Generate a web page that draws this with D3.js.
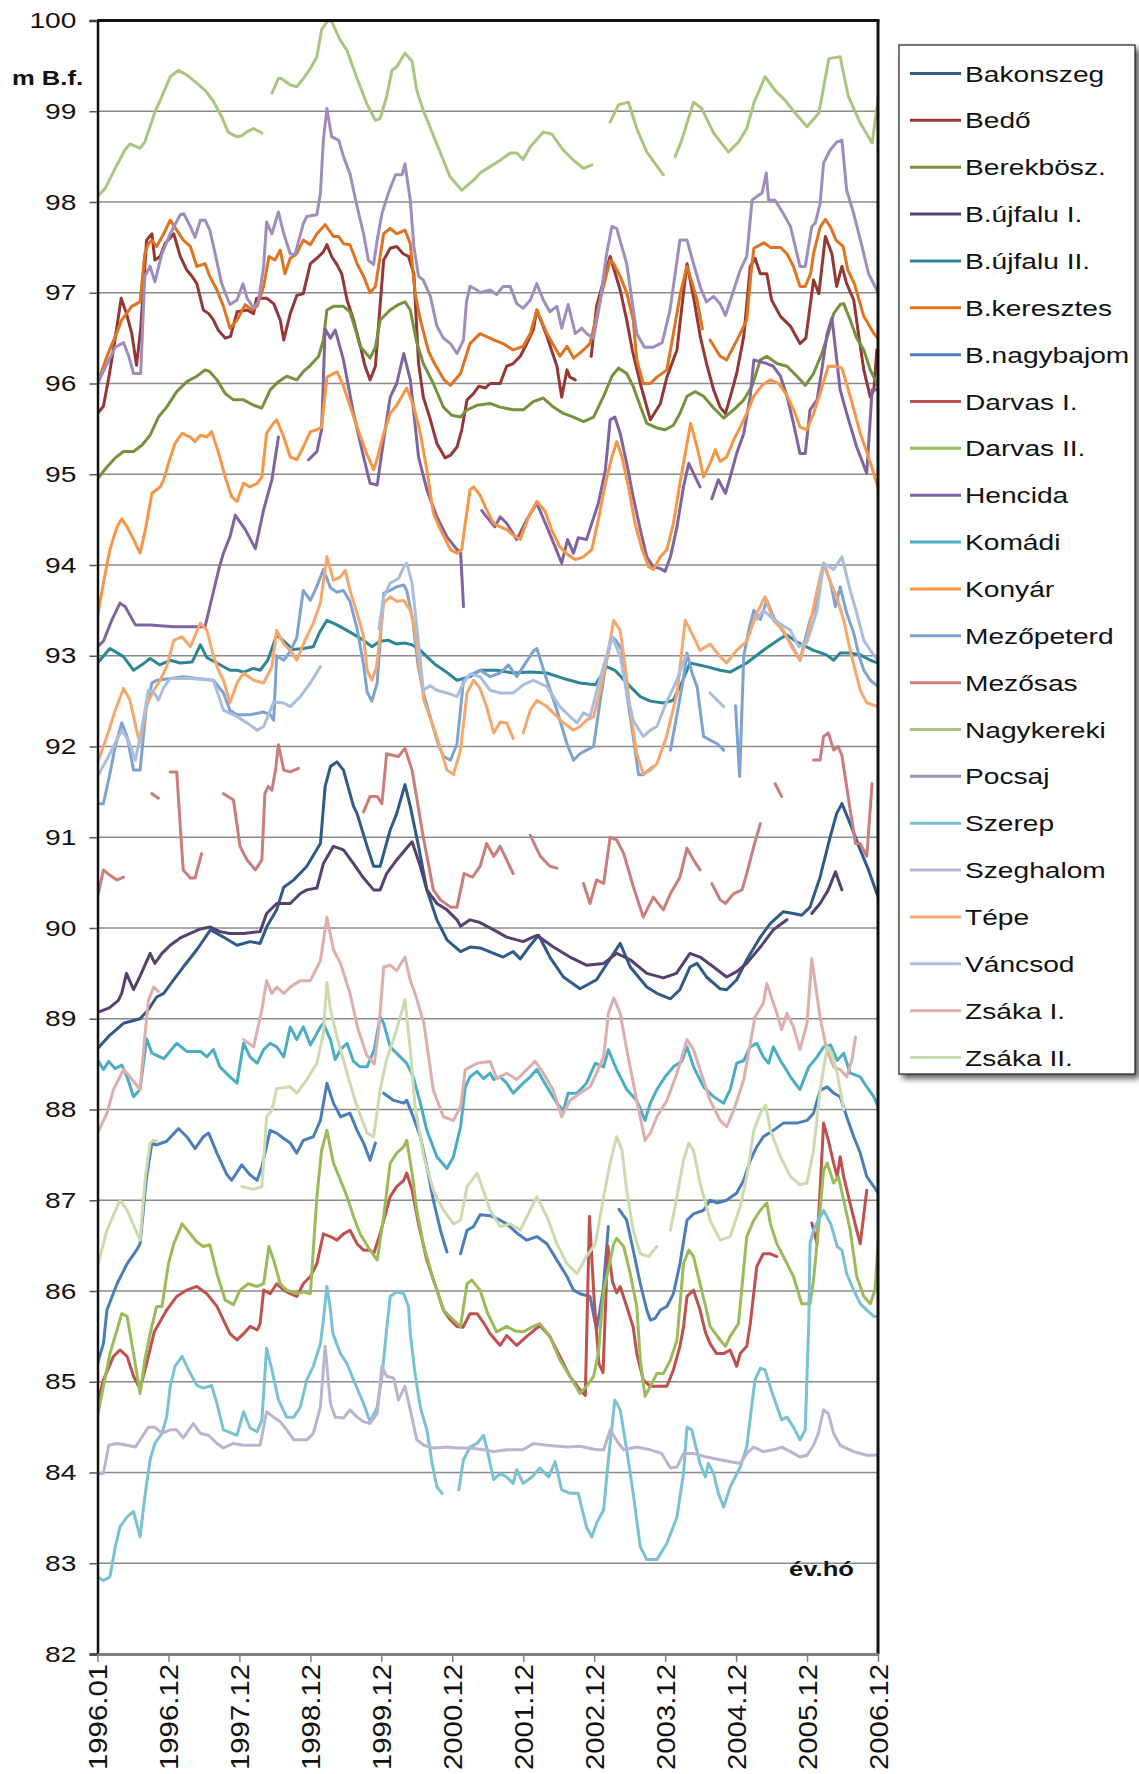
<!DOCTYPE html>
<html>
<head>
<meta charset="utf-8">
<script src="https://cdn.jsdelivr.net/npm/d3@7"></script>
<style>
  html, body { margin: 0; padding: 0; background: #fff; }
  svg { display: block; font-family: "Liberation Sans", Arial, sans-serif; }
</style>
</head>
<body>
<svg id="chart" width="1139" height="1774"></svg>
<script>
// Monthly groundwater levels (m B.f.), x = months since 1996.01; null = gap in record
const bakonszeg = [[0,88.67],[2.1,88.82],[4.4,88.95],[7.2,89.0],[8.6,89.1],[10,89.24],[11.2,89.28],[12.9,89.43],[14.5,89.57],[16.8,89.76],[19.1,89.98],[21.3,89.9],[23.6,89.81],[25.8,89.85],[27.5,89.83],[28.6,90.01],[30.3,90.2],[31.5,90.45],[33.2,90.53],[35.4,90.68],[37.7,90.93],[38.5,91.56],[39.4,91.78],[40.5,91.83],[41.6,91.74],[43.3,91.34],[43.9,91.26],[45.6,90.9],[46.7,90.68],[47.8,90.68],[49.5,91.08],[50.6,91.26],[52,91.58],[52.9,91.34],[54.3,90.9],[55.7,90.42],[57.4,90.09],[59.1,89.87],[61.4,89.74],[63,89.79],[64.7,89.78],[67,89.72],[68.6,89.68],[70.3,89.74],[71.5,89.66],[73.2,89.81],[74.6,89.92],[76.5,89.68],[78.8,89.46],[81.6,89.33],[84.4,89.43],[87.3,89.72],[88.4,89.83],[90.1,89.57],[92.9,89.35],[94.6,89.28],[96.9,89.22],[98.5,89.32],[100.2,89.57],[101.4,89.61],[103,89.46],[105.3,89.33],[106.4,89.32],[108.1,89.43],[109.8,89.65],[112.1,89.9],[113.8,90.05],[116,90.18],[117.7,90.16],[119.1,90.14],[120.5,90.23],[122.2,90.56],[123.9,91.0],[125,91.26],[125.9,91.37],[127.3,91.15],[129,90.86],[130.4,90.64],[131.8,90.38],[132,90.35]];
const bedo = [[0,95.67],[1,95.75],[2,96.1],[3,96.5],[4,96.94],[4.9,96.77],[5.8,96.55],[6.6,96.2],[7.3,96.6],[8.3,97.58],[9.2,97.65],[9.7,97.36],[10.6,97.4],[11.4,97.54],[12.9,97.65],[14,97.4],[15.1,97.25],[16,97.18],[16.8,97.1],[17.9,96.81],[18.8,96.77],[19.6,96.7],[20.4,96.59],[21.6,96.5],[22.5,96.52],[23.6,96.79],[25.3,96.81],[26.4,96.77],[26.9,96.94],[28.6,96.94],[29.8,96.88],[30.9,96.7],[31.5,96.48],[32.6,96.77],[33.7,96.97],[34.8,96.99],[36,97.32],[37.1,97.38],[38.2,97.45],[38.8,97.53],[39.6,97.4],[40.5,97.31],[41.3,97.21],[42.2,96.92],[43.3,96.7],[44.5,96.4],[45.2,96.2],[46.1,96.04],[47,96.19],[47.6,96.7],[48.4,97.36],[49.5,97.49],[50.6,97.51],[51.7,97.43],[52.6,97.4],[53.5,97.21],[54.3,96.22],[55.1,95.85],[56.3,95.6],[57.4,95.34],[58.8,95.18],[59.7,95.21],[60.8,95.3],[61.6,95.49],[62.5,95.82],[63.6,95.89],[64.5,95.97],[65.6,95.95],[66.4,96.0],[68.1,96.0],[69.2,96.19],[70.3,96.22],[71.5,96.3],[72.6,96.44],[73.7,96.59],[74.3,96.81],[76,96.52],[77.7,96.19],[78.5,95.85],[79.4,96.15],[79.9,96.07],[80.8,96.04],null,[83.5,96.3],[84.4,96.85],[86.7,97.4],[88.4,97.03],[89.5,96.7],[90.5,96.35],[91.8,96.0],[93.5,95.6],[95.2,95.78],[96.3,96.07],[98,96.37],[99.1,97.0],[99.7,97.32],[100.8,96.95],[102,96.5],[103,96.22],[104.2,95.93],[105.3,95.74],[106.2,95.67],[107,95.85],[108.1,96.11],[109.3,96.52],[110.4,97.29],[111.2,97.38],[112.1,97.21],[113.2,97.21],[114,96.92],[115.5,96.74],[117.2,96.63],[118.8,96.44],[119.8,96.5],[121.1,97.14],[122,96.99],[123.1,97.62],[124.2,97.43],[125,97.07],[125.9,97.29],[126.7,97.1],[127.9,96.92],[128.8,96.5],[129.6,96.15],[130.7,95.85],[131.3,95.93],[131.8,96.37]];
const berekbosz = [[0,94.95],[1.6,95.08],[3,95.18],[4.4,95.25],[6.1,95.25],[7.5,95.32],[8.9,95.43],[10.3,95.63],[11.7,95.74],[13.4,95.91],[15.1,96.02],[16.8,96.08],[18.2,96.15],[19,96.13],[20.2,96.04],[21.6,95.89],[23,95.82],[24.7,95.82],[26.4,95.76],[27.8,95.73],[29.2,95.93],[30.6,96.02],[32,96.08],[33.7,96.04],[34.8,96.13],[36,96.2],[37.4,96.3],[38.2,96.48],[38.8,96.81],[39.9,96.85],[41.6,96.85],[42.7,96.79],[43.6,96.6],[44.4,96.41],[46.1,96.28],[47,96.4],[47.8,96.7],[49.5,96.81],[50.9,96.87],[52,96.9],[52.9,96.81],[54,96.45],[55.1,96.22],[56.8,96.0],[58.5,95.74],[59.9,95.65],[61.4,95.63],[62.5,95.71],[64.2,95.76],[66.4,95.78],[68.1,95.74],[70.3,95.71],[72,95.71],[73.7,95.8],[75.4,95.84],[77.1,95.74],[78.8,95.67],[80.5,95.63],[82.2,95.58],[83.9,95.63],[85.6,95.86],[87,96.08],[88.1,96.17],[89.5,96.11],[90.6,95.97],[91.8,95.75],[92.9,95.56],[94.6,95.51],[96,95.49],[97.4,95.54],[98.5,95.67],[99.7,95.86],[101.1,95.91],[102.5,95.86],[104.2,95.73],[105.9,95.62],[107.6,95.71],[109.3,95.82],[110.7,95.97],[112.1,96.26],[113.2,96.3],[114.9,96.22],[116.6,96.19],[118.3,96.08],[119.7,95.98],[121.1,96.11],[122.5,96.33],[123.6,96.55],[124.5,96.77],[125.6,96.87],[126.2,96.88],[127.3,96.7],[128.4,96.5],[129.6,96.37],[130.7,96.15],[132,95.97]];
const bujfalu1 = [[0,89.07],[2,89.12],[3.5,89.2],[4.1,89.28],[4.9,89.5],[6.1,89.32],[7.2,89.47],[8.9,89.72],[9.7,89.61],[10.9,89.72],[12.3,89.81],[14,89.89],[15.7,89.94],[17.4,89.99],[19.1,90.01],[20.7,89.96],[22.4,89.94],[24.7,89.94],[27.5,89.96],[28.6,90.16],[30.3,90.27],[32.6,90.27],[34.3,90.38],[35.4,90.42],[37.1,90.44],[38.2,90.71],[39.9,90.9],[41.6,90.86],[43.3,90.71],[45,90.55],[46.7,90.42],[47.8,90.42],[48.9,90.6],[50.6,90.75],[52,90.86],[53.2,90.95],[54.6,90.68],[55.7,90.42],[57.4,90.27],[59.1,90.2],[60.8,90.09],[61.4,90.02],[63,90.09],[64.7,90.06],[67,89.98],[69.2,89.9],[72,89.85],[74.3,89.92],[77.1,89.79],[79.9,89.68],[82.7,89.59],[85.6,89.61],[87.8,89.72],[90.1,89.65],[92.9,89.5],[95.7,89.45],[97.9,89.5],[100.2,89.72],[101.9,89.68],[104.2,89.57],[106.4,89.46],[108.1,89.52],[109.8,89.61],[112.1,89.79],[114.3,89.98],[116.6,90.09],null,[120.8,90.16],[122.2,90.27],[123.6,90.42],[124.8,90.62],[125.9,90.42]];
const bujfalu2 = [[0,92.92],[2.1,93.08],[4.4,92.99],[6.1,92.84],[7.5,92.9],[8.9,92.97],[10.5,92.9],[12.3,92.95],[14,92.92],[16,92.93],[17.4,93.12],[18.5,92.98],[20.2,92.92],[22.4,92.84],[23.6,92.84],[24.7,92.82],[26.4,92.86],[27.5,92.84],[28.8,92.95],[30.3,93.23],[31.5,93.16],[33,93.07],[34.8,93.08],[36.5,93.1],[37.5,93.25],[38.8,93.39],[40.5,93.34],[42.7,93.26],[45,93.17],[46.4,93.1],[47.8,93.16],[49.2,93.17],[50.5,93.13],[52,93.14],[53.2,93.12],[54.6,93.06],[55.7,92.99],[57.2,92.9],[58.8,92.83],[60.8,92.73],[63,92.77],[64.7,92.84],[67.5,92.84],[70.3,92.81],[73.2,92.82],[76,92.81],[78.8,92.75],[81.6,92.7],[84.2,92.68],[86.1,92.88],[87.5,92.84],[90.1,92.66],[91.8,92.55],[93.5,92.5],[95.7,92.48],[97.4,92.51],[98.8,92.7],[100.2,92.92],[103,92.88],[105.3,92.84],[107,92.82],[109.8,92.92],[112.6,93.06],[115.5,93.19],[116.6,93.23],[118.3,93.15],[121.1,93.06],[123.3,93.01],[124.5,92.95],[125.6,93.03],[127.3,93.03],[129,93.01],[130.7,92.95],[132,92.92]];
const bkeresztes = [[0,96.0],[1.6,96.3],[3.2,96.55],[4.1,96.7],[4.9,96.77],[5.8,96.85],[7.2,96.9],[8,97.43],[8.6,97.54],[9.2,97.58],[10,97.51],[11.2,97.65],[12.3,97.8],[13.4,97.69],[14.5,97.58],[15.7,97.51],[16.8,97.29],[18.2,97.32],[19,97.18],[20.2,97.03],[21.3,96.85],[22.4,96.61],[23.6,96.7],[25,96.87],[26.1,96.81],[27,96.85],[28.1,97.07],[29,97.4],[30,97.36],[30.9,97.47],[31.7,97.21],[32.6,97.38],[33.7,97.43],[34.8,97.58],[36,97.53],[37.1,97.65],[38.5,97.75],[39.9,97.62],[40.8,97.62],[41.6,97.54],[42.7,97.53],[43.9,97.32],[45,97.18],[46.1,97.0],[47,97.07],[48.4,97.65],[49.5,97.71],[50.6,97.65],[52,97.69],[52.9,97.54],[53.7,97.0],[54.6,96.7],[56,96.35],[57,96.22],[58.6,96.04],[59.7,95.98],[61.4,96.11],[63,96.44],[64.7,96.55],[67,96.48],[68.6,96.44],[70.3,96.37],[72,96.41],[73.2,96.55],[74.3,96.81],[76,96.55],[78.2,96.3],[79.4,96.41],[80.5,96.28],[82.2,96.37],[83.3,96.44],[85,96.92],[86.7,97.36],[87.3,97.32],[88.4,97.18],[89.5,97.0],[90.6,96.7],[91.2,96.26],[92.3,96.0],[93.5,96.0],[94.6,96.07],[96.3,96.15],[97.4,96.55],[98.6,97.0],[99.7,97.29],[100.6,97.1],[101.4,96.92],[102.3,96.6],null,[103.6,96.48],[105.3,96.3],[106.4,96.26],[107.6,96.41],[108.7,96.55],[109.8,96.7],[110.5,97.2],[111,97.49],[112.7,97.55],[113.8,97.5],[115.5,97.5],[116.6,97.43],[117.7,97.29],[118.8,97.07],[119.7,97.07],[120.6,97.21],[121.1,97.43],[122.2,97.72],[123.1,97.81],[124,97.72],[124.9,97.58],[126.1,97.51],[126.9,97.25],[128,97.1],[129.6,96.74],[131.3,96.55],[132,96.5]];
const bnagybajom = [[0,85.2],[1,85.42],[1.6,85.79],[3.3,86.08],[5,86.3],[6.6,86.45],[7.2,86.52],[8.3,87.26],[9.2,87.63],[10,87.61],[11.7,87.65],[13.7,87.79],[15.1,87.7],[16.5,87.57],[17.9,87.7],[18.8,87.74],[20.2,87.52],[21.9,87.28],[22.7,87.22],[24.4,87.39],[25.8,87.28],[27,87.22],[27.8,87.37],[29.2,87.77],[30.3,87.74],[31.5,87.68],[32.6,87.63],[33.7,87.52],[34.8,87.66],[36.5,87.7],[37.7,87.88],[38.8,88.29],[39.9,88.07],[41.1,87.92],[42.7,87.96],[43.9,87.77],[45,87.63],[46.1,87.44],[47,87.63],null,[48.4,88.18],[50.1,88.1],[51.8,88.07],[52.3,88.1],[53.4,87.92],[54.6,87.7],[55.7,87.37],[56.8,87.0],[58,86.67],[59.1,86.43],null,[61.4,86.41],[62.5,86.67],[63.6,86.71],[64.7,86.84],[66.4,86.83],[68.1,86.78],[69.2,86.74],[70.9,86.64],[72.6,86.56],[74.3,86.6],[76,86.52],[77.7,86.34],[79.4,86.16],[80.5,86.01],[81.6,85.97],[83.3,85.94],[84.4,85.57],[85.5,86.0],[86.4,86.71],null,[88.2,86.9],[89.5,86.78],[90.6,86.45],[91.8,86.08],[92.9,85.79],[93.5,85.68],[94.3,85.7],[95.2,85.79],[96.3,85.83],[97.4,85.97],[98.5,86.3],[99.7,86.78],[100.8,86.85],[102.5,86.89],[103.6,87.0],[104.8,86.97],[106.4,87.0],[108.1,87.08],[109.3,87.22],[110.4,87.44],[111.5,87.59],[112.6,87.7],[114.3,87.77],[116,87.85],[118.3,87.85],[120,87.88],[121.1,87.96],[122.2,88.21],[123.4,88.25],[124.5,88.18],[125.6,88.14],[126.7,87.92],[127.9,87.7],[129,87.52],[130.1,87.26],[131.3,87.15],[132,87.08]];
const darvas1 = [[0,84.76],[1,85.02],[2.7,85.28],[3.8,85.35],[5,85.28],[6.1,85.06],[7.2,84.92],[8.3,85.2],[9.6,85.55],[11.7,85.79],[13.4,85.94],[15.1,86.01],[16.8,86.05],[18.5,85.97],[20.2,85.83],[21.3,85.68],[22.4,85.53],[23.6,85.46],[24.7,85.53],[25.8,85.61],[27,85.57],[27.5,85.64],[28.1,86.01],[29.2,85.97],[30.3,86.08],[31.5,86.01],[32.6,85.97],[33.7,85.94],[34.8,86.08],[36,86.16],[37.1,86.3],[38.2,86.63],[39.4,86.6],[40.5,86.56],[41.6,86.63],[42.7,86.67],[43.9,86.52],[45,86.45],[46.1,86.45],[46.7,86.41],[47.8,86.63],[49.5,87.04],[50.6,87.15],[51.8,87.22],[52.3,87.3],[53.2,87.11],[54.3,86.74],[55.7,86.34],[57.4,86.01],[58.5,85.79],[59.7,85.68],[60.8,85.61],[61.8,85.6],[63,85.75],[64.2,85.75],[65.3,85.65],[66.4,85.53],[68.1,85.4],[69.2,85.51],[70.9,85.4],[72.6,85.5],[74.8,85.62],[76.5,85.5],[78.2,85.28],[79.9,85.06],[81.6,84.91],[82.5,84.85],[83.2,86.82],[84,85.9],[84.8,85.2],[85.5,85.1],[86.3,86.5],[87.1,86.1],[87.8,85.98],[88.4,86.05],[89.5,85.83],[90.6,85.6],[91.2,85.31],[92.3,85.02],[93.5,84.95],[95.2,84.95],[96.3,84.95],[97.4,85.13],[98.5,85.39],[99.1,85.6],[99.7,85.94],[100.8,86.01],[101.9,85.79],[102.8,85.55],[103.6,85.42],[104.7,85.31],[105.9,85.31],[107,85.35],[108.1,85.17],[108.7,85.31],[109.8,85.39],[110.4,85.64],[111.5,86.27],[112.6,86.41],[113.8,86.41],[114.9,86.38],null,[120.8,86.75],[121.7,86.52],[122.2,87.11],[122.8,87.85],[123.6,87.66],[124.5,87.41],[125.1,87.26],[125.6,87.48],[126.2,87.26],[127.3,86.96],[128.4,86.67],[129,86.52],[130.1,87.11]];
const darvas2 = [[0,84.62],[1,84.95],[2.1,85.31],[3.3,85.57],[4.1,85.75],[5,85.72],[6,85.35],[7.2,84.87],[8,85.24],[8.9,85.53],[10,85.83],[10.9,85.83],[12,86.3],[12.9,86.52],[14.3,86.74],[15.7,86.63],[16.8,86.54],[17.9,86.49],[19,86.51],[20.2,86.19],[21.6,85.9],[23,85.85],[24.1,86.01],[25.5,86.08],[27,86.05],[28.1,86.08],[29,86.49],[29.8,86.34],[30.9,86.08],[32,86.01],[33.7,85.97],[34.8,85.99],[36,85.97],[37.1,87.04],[37.9,87.55],[38.8,87.77],[39.9,87.41],[41.1,87.22],[42.2,87.04],[43.3,86.82],[44.4,86.63],[46.1,86.45],[47.3,86.34],[48.4,86.82],[49.5,87.41],[50.6,87.52],[51.8,87.59],[52.3,87.66],[53.2,87.3],[54,86.89],[55.1,86.52],[56.8,86.12],[58.5,85.79],[60.2,85.68],[61.4,85.61],[62.5,86.08],[63.3,86.12],[64.7,86.01],[66,85.75],[67.5,85.55],[69.2,85.61],[70.6,85.56],[72,85.55],[73.7,85.61],[74.8,85.64],[76.5,85.5],[78.2,85.24],[79.9,85.06],[81.6,84.87],[82.7,84.95],[83.9,85.06],[84.7,85.31],[85.6,86.0],[87.3,86.52],[87.8,86.58],[89,86.49],[90.1,86.19],[91.2,85.83],[91.8,85.24],[92.6,84.84],[93.5,84.95],[94.6,85.09],[95.7,85.09],[96.9,85.24],[98,85.46],[99.1,86.3],[100,86.45],[100.8,86.38],[101.9,86.08],[103,85.79],[103.6,85.61],[105.3,85.46],[106.2,85.39],[107,85.5],[108.4,85.64],[109.8,86.6],[111,86.78],[112.1,86.89],[113.2,86.97],[113.8,86.74],[114.9,86.52],[116,86.38],[117.7,86.16],[119.1,85.86],[120.5,85.86],[121.1,86.12],[121.9,86.67],[122.8,87.33],[123.4,87.41],[124.5,87.19],[125.3,87.26],[126.2,87.0],[127.3,86.67],[128.4,86.16],[129.6,85.94],[130.7,85.86],[131.5,86.01],[132,86.52]];
const hencida = [[0,93.1],[1,93.16],[2.4,93.39],[3.8,93.58],[4.7,93.54],[6.4,93.34],[8.9,93.34],[12.9,93.32],[18.2,93.32],[19.4,93.65],[20.5,93.95],[21.3,94.13],[22.4,94.31],[23.3,94.55],[25,94.39],[26.7,94.18],[28.1,94.61],[29.5,94.94],[30.6,95.41],null,[35.7,95.16],[37.1,95.25],[37.9,95.49],[38.5,96.6],[39.4,96.5],[40.2,96.59],[41.6,96.26],[43.3,95.67],[45,95.19],[46.1,94.9],[47.3,94.88],[48.4,95.38],[49.5,95.85],[50.6,96.0],[51.8,96.33],[52.9,96.04],[54.3,95.19],[55.7,94.83],[57.4,94.53],[59.1,94.31],[60.8,94.17],[61.4,94.15],[61.9,93.54],null,[65,94.6],[65.8,94.53],[67.2,94.42],[68.1,94.53],[69.2,94.46],[70.9,94.28],[72.6,94.5],[74.3,94.68],[76,94.42],[77.4,94.2],[78.5,94.02],[79.5,94.28],[80.5,94.13],[81.3,94.3],[82.7,94.28],[84.7,94.68],[85.9,95.05],[86.7,95.6],[87.5,95.63],[88.4,95.45],[89.5,95.12],[90.6,94.75],[91.8,94.39],[92.9,94.09],[94,93.98],[95.2,93.96],[96,93.93],[96.9,94.09],[98,94.42],[99.1,94.86],[100,95.12],[100.8,95.01],[101.9,94.86],null,[103.9,94.73],[105,94.94],[106.2,94.79],[107,94.97],[108.1,95.23],[109.3,95.45],[110.4,95.86],[111,96.26],[112.1,96.24],[113.2,96.22],[114.3,96.19],[115.5,96.08],[116.6,95.86],[117.7,95.56],[118.8,95.23],[119.7,95.23],[120.5,95.71],[121.7,95.82],[122.5,96.15],[123.4,96.55],[124.2,96.72],[124.6,96.5],[125.6,95.93],[126.7,95.67],[128.4,95.3],[130.1,95.01],[131,95.93],[132,95.93]];
const komadi = [[0,88.55],[1,88.44],[1.9,88.53],[3,88.45],[4.1,88.49],[5,88.36],[6.1,88.14],[7.2,88.22],[8.3,88.78],[9.2,88.62],[11.2,88.56],[13.4,88.73],[15.1,88.64],[17.4,88.64],[18.5,88.58],[19.6,88.66],[20.7,88.47],[22.4,88.36],[23.6,88.29],[24.7,88.73],[25.8,88.58],[27,88.51],[28.1,88.66],[29.2,88.73],[30.3,88.69],[31.5,88.58],[32.6,88.91],[33.7,88.77],[34.8,88.91],[36,88.71],[37.7,88.91],[38.2,88.95],[39.4,88.77],[40.2,88.55],[41.1,88.66],[42.2,88.73],[43.3,88.53],[44.4,88.47],[45.6,88.47],[46.8,88.66],[47.8,89.02],[48.4,88.95],[49.5,88.69],[51.2,88.58],[52.3,88.51],[53.4,88.36],[54.6,88.07],[55.7,87.77],[57.4,87.48],[59.1,87.35],[60.2,87.48],[61.4,87.81],[62.2,88.25],[63,88.36],[64.2,88.42],[65.3,88.34],[66.4,88.4],[67,88.33],[68.1,88.36],[69.2,88.29],[70.3,88.18],[72,88.29],[73.2,88.36],[74.3,88.44],[76,88.25],[77.7,88.07],[78.8,87.99],[79.6,88.18],[81.1,88.18],[82.7,88.29],[84.2,88.51],[85.6,88.47],[86.4,88.66],[87.8,88.44],[89.5,88.22],[91.2,88.1],[92.6,87.88],[93.5,88.07],[94.6,88.22],[96,88.36],[97.4,88.47],[98.8,88.53],[99.7,88.69],[100.8,88.47],[102.5,88.25],[104.2,88.14],[105.9,88.07],[107,88.22],[108.1,88.51],[109.3,88.54],[110.4,88.69],[111.5,88.73],[112.6,88.58],[113.5,88.51],[114.3,88.69],[115.5,88.54],[117.2,88.36],[118.8,88.22],[120.3,88.47],[121.7,88.58],[122.8,88.69],[124,88.71],[125.1,88.54],[126.2,88.62],[127.3,88.4],[129,88.36],[130.1,88.25],[131.3,88.14],[132,88.03]];
const konyar = [[0,93.43],[1,93.8],[2.1,94.17],[3.3,94.42],[4.1,94.51],[5,94.42],[6.1,94.28],[7.2,94.13],[8.1,94.39],[9.2,94.79],[10.6,94.86],[11.2,94.94],[12,95.12],[13.1,95.34],[14.3,95.45],[15.7,95.41],[16.5,95.36],[17.4,95.43],[18.5,95.41],[19.3,95.47],[20.5,95.23],[21.6,94.97],[22.7,94.75],[23.6,94.7],[24.7,94.9],[25.8,94.86],[27,94.9],[27.8,94.97],[28.6,95.45],[29.5,95.54],[30.3,95.6],[31.5,95.41],[32.6,95.19],[33.7,95.16],[34.8,95.3],[36,95.47],[37.1,95.49],[37.9,95.52],[38.8,96.07],[40.5,96.13],[41.6,95.97],[43.9,95.52],[45.5,95.23],[46.7,95.05],[47.3,95.17],[48.4,95.45],[49.5,95.67],[50.6,95.76],[52.3,95.95],[53.5,95.74],[54.6,95.45],[55.7,95.05],[56.8,94.57],[58,94.39],[59.7,94.17],[60.8,94.13],[61.6,94.17],[62.2,94.46],[63,94.83],[63.6,94.86],[64.7,94.77],[65.8,94.61],[67,94.46],[68.1,94.42],[69.2,94.39],[70.3,94.33],[71.5,94.28],[72.9,94.53],[74.3,94.7],[75.7,94.59],[76.8,94.39],[78.2,94.2],[79.6,94.11],[80.8,94.06],[82.2,94.09],[83.6,94.17],[84.7,94.5],[85.9,94.9],[87,95.19],[87.8,95.36],[88.7,95.19],[89.8,94.86],[90.9,94.46],[92.1,94.17],[93.2,93.98],[94,93.95],[95.2,94.09],[96.3,94.17],[97.4,94.46],[98.5,94.9],[99.4,95.23],[100.3,95.56],[101.4,95.3],[102.5,94.97],[103.6,95.12],[104.5,95.27],[105.3,95.14],[106.4,95.19],[107.6,95.38],[108.7,95.52],[109.8,95.67],[111,95.86],[112.4,95.98],[113.8,96.04],[115.2,96.0],[116.6,95.87],[118,95.67],[118.8,95.52],[120,95.49],[121.1,95.67],[122.2,95.89],[123.6,96.19],[124.8,96.19],[125.9,96.17],[127.3,95.86],[129,95.45],[130.4,95.19],[131.8,94.9],[132,94.85]];
const mezopeterd = [[0,91.37],[1,91.37],[2.1,91.7],[3,92.0],[4.1,92.26],[5,92.11],[6.1,91.74],[7.2,91.74],[8.2,92.4],[9.2,92.7],[10,92.73],[12.3,92.75],[14.6,92.77],[16.8,92.75],[19.6,92.73],[21.3,92.59],[22.4,92.4],[23.6,92.35],[25.8,92.35],[28.1,92.38],[29.2,92.35],[29.8,92.29],[30.3,93.0],[31.5,92.95],[32.6,93.05],[33.7,93.2],[34.8,93.72],[36,93.61],[37,93.75],[38.2,93.95],[39.4,93.75],[40.5,93.7],[41.6,93.72],[42.7,93.6],[43.9,93.3],[45,92.9],[45.6,92.6],[46.4,92.5],[47.3,92.7],[48.4,93.69],[49.5,93.72],[50.6,93.76],[51.8,93.78],[52.3,93.72],[53.3,93.4],[54.2,92.9],[55.1,92.59],[57.4,92.07],[58.5,91.89],[59.7,91.85],[60.8,92.03],[61.9,92.73],[63,92.79],[64.7,92.84],[66.4,92.77],[68.1,92.81],[69.5,92.9],[70.9,92.77],[72.2,92.9],[73.7,93.05],[74.3,93.08],[76,92.73],[77.7,92.4],[79.4,92.03],[80.5,91.85],[81.6,91.92],[82.7,91.96],[83.9,92.0],[85,92.5],[86.1,92.95],[87,93.21],[87.8,93.16],[88.7,93.06],[89.5,92.59],[90.6,92.11],[91.5,91.69],[92.3,91.69],[94,91.78],null,[96.9,91.96],[98,92.35],[99.1,92.75],[99.7,93.03],[100.6,92.8],[101.4,92.66],[102.5,92.11],[103.6,92.07],[104.8,92.03],[105.9,91.96],null,[107.9,92.45],[108.6,91.67],[109.3,93.0],[110.2,93.3],[111,93.5],[112.1,93.4],[113.2,93.61],[114.3,93.43],[115.6,93.3],[117.2,93.14],[118.8,92.95],[120.5,93.39],[121.7,93.58],[122.8,94.02],[124,93.8],[124.8,93.54],[125.6,93.76],[126.7,93.47],[127.9,93.25],[128.8,93.0],[129.6,92.84],[130.7,92.73],[132,92.66]];
const mezosas = [[0,90.34],[1,90.64],[2.1,90.58],[3.3,90.53],[4.4,90.56],null,[9.2,91.48],[10.3,91.43],null,[12.3,91.72],[13.4,91.72],[14,91.12],[14.5,90.64],[15.7,90.55],[16.5,90.55],[17.6,90.82],null,[21.3,91.48],[23,91.41],[24.1,90.9],[25.3,90.75],[26.7,90.64],[27.8,90.75],[28.3,91.48],[28.9,91.56],[29.5,91.52],[30.1,91.74],[30.6,92.02],[31.5,91.74],[32.6,91.72],[34,91.76],null,[45,91.28],[46.1,91.45],[47.3,91.45],[48.1,91.37],[48.9,91.92],[50.1,91.9],[50.9,91.89],[52,91.98],[53.2,91.74],[54.2,91.35],[55.1,91.0],[56.8,90.42],[58,90.31],[59.7,90.23],[60.8,90.23],[62,90.6],[63.4,90.56],[64.7,90.68],[65.8,90.93],[67,90.79],[68.1,90.9],[69.2,90.75],[70.3,90.6],null,[73.2,91.02],[74.9,90.79],[76.5,90.68],[77.7,90.66],null,[82.2,90.49],[83.3,90.27],[84.4,90.53],[85.6,90.49],[86.7,91.0],[87.8,90.97],[89,90.82],[90.6,90.46],[92.3,90.12],[94,90.34],[95.7,90.2],[96.9,90.38],[98.5,90.56],[99.7,90.88],[100.8,90.75],[101.9,90.64],null,[103.9,90.49],[105.3,90.31],[106.2,90.27],[107.6,90.38],[109,90.42],[109.8,90.6],[111,90.9],[112.1,91.15],null,[114.6,91.59],[115.7,91.45],null,[121.1,91.85],[122.2,91.85],[122.8,92.11],[123.6,92.15],[124.5,91.96],[125.3,92.0],[125.9,91.9],[127.3,91.3],[128.2,90.93],[129,90.93],[130.1,90.79],[131,91.59]];
const nagykereki = [[0,98.06],[1.3,98.15],[3,98.37],[4.6,98.57],[5.5,98.64],[7.2,98.59],[8,98.66],[9.7,98.99],[10.6,99.12],[12.3,99.38],[13.7,99.45],[15.1,99.4],[16.8,99.31],[18.2,99.23],[19.6,99.11],[21,98.94],[22.1,98.77],[23.5,98.72],[24.4,98.73],[25.2,98.77],[26.4,98.81],[27.8,98.76],null,[29.5,99.2],[30.6,99.36],[31.1,99.36],[32.6,99.29],[33.7,99.27],[34.8,99.36],[36,99.47],[37.1,99.6],[37.9,99.9],[39,100.0],[39.6,99.99],[41,99.79],[42.2,99.67],[43.9,99.36],[45.5,99.09],[47,98.9],[47.8,98.92],[48.9,99.16],[49.8,99.45],[50.6,99.49],[52,99.64],[53.2,99.55],[54,99.23],[55.1,99.01],[58,98.54],[59.6,98.28],[61.6,98.13],[63.6,98.24],[64.7,98.32],[66.4,98.39],[68.1,98.46],[69.8,98.54],[70.9,98.54],[72,98.47],[73.2,98.61],[75.4,98.77],[76.8,98.75],[78.8,98.57],[80.5,98.46],[82.2,98.37],[83.6,98.41],null,[86.7,98.88],[88.1,99.07],[89.8,99.1],[91.2,98.81],[92.9,98.55],[95.7,98.3],null,[97.7,98.5],[98.8,98.68],[100.8,99.1],[102.2,99.03],[104.2,98.76],[106.7,98.55],[108.4,98.66],[109.8,98.81],[111,99.09],[112.9,99.38],[114.6,99.23],[116.3,99.12],[118,98.98],[120,98.83],[122,98.98],[123.7,99.58],[125.6,99.6],[127,99.16],[129,98.87],[131,98.65],[132,99.12]];
const pocsaj = [[0,96.0],[1.5,96.2],[3,96.4],[4.4,96.45],[5.3,96.3],[6.1,96.11],[7.3,96.11],[8,97.18],[8.9,97.29],[9.7,97.12],[10.9,97.43],[12.3,97.65],[14,97.86],[14.6,97.87],[15.7,97.73],[16.5,97.61],[17.4,97.8],[18.2,97.8],[19,97.69],[19.9,97.43],[21,97.1],[22.4,96.87],[23.6,96.92],[24.6,97.1],[25.3,96.94],[26.4,96.83],[27.2,96.9],[28.1,97.29],[28.6,97.78],[29.5,97.65],[30.6,97.89],[31.5,97.65],[32.6,97.43],[33.4,97.42],[34.8,97.76],[35.4,97.84],[37.1,97.86],[37.7,98.1],[38.2,98.68],[38.8,99.03],[39.6,98.72],[40.8,98.68],[41.6,98.5],[42.7,98.31],[43.9,97.95],[45,97.65],[45.8,97.36],[46.7,97.31],[47.3,97.58],[48.1,97.87],[49.2,98.1],[50.4,98.3],[51.5,98.3],[52,98.42],[52.9,98.02],[53.5,97.51],[54.3,97.18],[55.1,97.14],[56.3,96.96],[57.4,96.63],[58.5,96.5],[59.7,96.44],[60.8,96.33],[61.9,96.48],[62.4,96.9],[63,97.07],[64.2,97.03],[64.7,97.0],[66.4,97.03],[67.5,96.98],[68.6,97.07],[69.8,97.07],[70.9,96.88],[72,96.83],[73.2,96.92],[74.3,97.1],[75.4,96.92],[76.5,96.79],[77.7,96.85],[78.5,96.61],[79.6,96.87],[80.8,96.55],[81.9,96.61],[82.7,96.55],[83.9,96.5],[85,96.9],[86.1,97.43],[87,97.73],[87.8,97.71],[89.5,97.32],[91.2,96.55],[92.5,96.4],[94,96.4],[95.5,96.45],[96.8,96.8],[98.5,97.58],[99.7,97.58],[100.8,97.32],[102,97.05],[103,96.9],[104.2,96.96],[105.3,96.88],[106.2,96.75],[107.6,97.03],[108.7,97.25],[109.8,97.4],[110.7,98.02],[111.5,98.06],[112.4,98.1],[113.1,98.32],[113.5,98.02],[114.6,98.02],[116,97.87],[117.2,97.73],[118,97.51],[118.8,97.29],[119.7,97.29],[120.8,97.73],[121.4,97.77],[122.2,97.98],[122.8,98.43],[123.9,98.57],[125,98.66],[125.9,98.68],[126.7,98.13],[127.9,97.87],[129.3,97.51],[130.4,97.21],[131.8,97.03],[132,97.0]];
const szerep = [[0,82.85],[1,82.81],[2.1,82.85],[3,83.18],[3.8,83.4],[5,83.51],[6.1,83.57],[7.2,83.29],[8,83.73],[8.9,84.14],[9.7,84.32],[10.9,84.43],[11.7,84.61],[12.3,84.95],[13.1,85.17],[14.3,85.28],[15.4,85.13],[16.8,84.96],[17.9,84.93],[19.3,84.96],[20.2,84.76],[21.3,84.47],[23.6,84.41],[24.7,84.67],[25.8,84.49],[27,84.45],[27.8,84.58],[28.6,85.37],[29.5,85.13],[30.6,84.8],[32,84.61],[33.2,84.61],[34.3,84.72],[35.4,85.02],[36.5,85.17],[37.7,85.42],[38.2,85.68],[38.8,86.05],[39.4,85.79],[39.8,85.53],[41.1,85.31],[42.2,85.2],[43.3,85.02],[45,84.76],[46.1,84.56],[47.3,84.72],[48.1,85.06],[48.9,85.57],[49.5,85.94],[50.6,85.99],[51.8,85.97],[52.6,85.83],[52.9,85.53],[53.7,85.09],[54.6,84.72],[55.7,84.47],[56.6,84.1],[57.4,83.84],[58.3,83.77],null,[61.1,83.81],[61.9,84.14],[63,84.28],[64.2,84.32],[65.3,84.41],[65.8,84.28],[67,83.92],[68.1,83.99],[69.2,83.95],[70.3,83.88],[70.9,84.03],[72,83.88],[73.5,83.95],[74.8,84.05],[76.3,83.95],[77.4,84.12],[78.5,83.81],[79.9,83.77],[81.3,83.77],[82.7,83.4],[83.6,83.29],[84.4,83.44],[85.6,83.59],[86.4,84.14],[87.5,84.8],[88.4,84.69],[89.5,84.25],[90.6,83.77],[91.8,83.18],[92.9,83.04],[94.6,83.04],[96.3,83.22],[98,83.51],[99.1,83.99],[99.7,84.5],[100.5,84.47],[101.9,84.1],[102.8,83.95],[103.3,84.1],[104.2,83.99],[105,83.77],[105.9,83.62],[107,83.84],[108.7,84.06],[109.8,84.28],[110.7,84.76],[111.2,85.02],[112.1,85.15],[112.9,85.13],[114.3,84.84],[115.7,84.58],[116.6,84.61],[117.7,84.5],[118.8,84.36],[119.7,84.47],[120.3,85.68],[120.5,86.52],[121.1,86.67],[121.9,86.78],[122.8,86.89],[124,86.74],[125.1,86.49],[125.9,86.45],[126.7,86.19],[127.9,86.01],[129,85.86],[130.1,85.79],[131.3,85.72],[132,85.72]];
const szeghalom = [[0,83.99],[1,83.99],[1.9,84.3],[3.3,84.32],[5,84.3],[6.4,84.28],[7.5,84.39],[8.6,84.5],[9.7,84.5],[10.9,84.43],[12.3,84.47],[13.4,84.47],[14.5,84.38],[16.2,84.54],[17.4,84.43],[18.8,84.41],[20.2,84.32],[21.3,84.27],[22.9,84.32],[24.7,84.3],[27.5,84.3],[28.6,84.67],[29.8,84.61],[30.9,84.56],[32,84.47],[33.2,84.36],[35.4,84.36],[36.5,84.43],[37.7,84.72],[38.5,85.39],[39.4,84.76],[40.2,84.61],[41.6,84.6],[42.7,84.69],[43.9,84.61],[45,84.56],[46.1,84.54],[47.3,84.65],[48.1,85.17],[48.9,85.06],[50.1,85.04],[50.9,84.8],[52,84.95],[52.9,84.69],[54,84.36],[55.2,84.3],[56.8,84.27],[59.1,84.28],[60.8,84.27],[63,84.27],[65.3,84.25],[67,84.23],[69.2,84.25],[72,84.25],[73.7,84.32],[76,84.3],[79.4,84.28],[81.6,84.29],[84.4,84.25],[85.6,84.25],[86.7,84.47],[88,84.33],[89,84.25],[91.2,84.28],[93.5,84.25],[95.4,84.21],[96.9,84.05],[98,84.06],[99.1,84.21],[100.8,84.21],[103,84.17],[105.3,84.14],[108.7,84.1],[109.8,84.21],[111,84.28],[112.6,84.23],[114.3,84.25],[115.7,84.28],[117.2,84.23],[118.8,84.17],[120,84.19],[121.1,84.3],[121.9,84.43],[122.8,84.69],[123.6,84.65],[124.5,84.43],[125.6,84.3],[127.9,84.23],[130.1,84.19],[132,84.19]];
const tepe = [[0,91.82],[1.6,92.11],[3,92.4],[4.4,92.64],[5.5,92.51],[6.7,92.15],[7.2,92.04],[8.3,92.45],[9.5,92.62],[10.6,92.73],[11.7,92.88],[12.9,93.17],[14.3,93.21],[15.7,93.1],[17.4,93.36],[18.5,93.28],[19.6,93.0],[20.4,92.85],[21.3,92.73],[22.4,92.48],[23.6,92.7],[24.7,92.81],[26.4,92.73],[28.1,92.7],[29.5,92.88],[30.3,93.28],[31.5,93.13],[32.6,93.06],[33.7,92.95],[35.1,93.17],[36.5,93.36],[37.7,93.58],[38.8,94.09],[39.9,93.83],[41.1,93.87],[41.9,93.94],[42.7,93.72],[43.9,93.47],[45,93.21],[45.6,92.84],[46.4,92.73],[47.2,92.88],[48.4,93.58],[49.5,93.65],[50.6,93.6],[51.8,93.61],[52.9,93.5],[53.7,93.28],[54.5,92.85],[55.2,92.51],[56.8,92.22],[58,91.98],[59.1,91.74],[60.2,91.69],[61.4,91.96],[62.5,92.59],[63.6,92.73],[64.7,92.64],[65.8,92.44],[67,92.15],[68.1,92.27],[69.2,92.26],[70.3,92.09],null,[72,92.15],[73.2,92.4],[74.3,92.51],[76,92.44],[77.7,92.33],[78.8,92.26],[80.5,92.18],[81.6,92.22],[82.7,92.29],[83.9,92.33],[85,92.62],[86.1,92.95],[87.3,93.39],[88.4,93.28],[89.2,92.9],[90.1,92.4],[91.2,91.92],[92.3,91.7],[93.5,91.74],[94.6,91.81],[96.2,92.1],[98,92.58],[99.4,93.39],[100.8,93.21],[101.9,93.06],[103.6,93.13],[105.3,92.99],[106.4,92.92],[108.1,93.06],[109.8,93.16],[111.5,93.47],[112.9,93.65],[114.3,93.39],[116,93.28],[117.4,93.1],[118.8,92.95],[120,93.2],[121.7,93.72],[122.8,94.02],[124,93.8],[125,93.65],[126.2,93.39],[127.3,93.06],[128.3,92.8],[129,92.62],[130.1,92.48],[132,92.44]];
const vancsod = [[0,91.67],[2.1,91.92],[4.1,92.18],[5.2,92.07],[6.4,91.85],[7.5,92.2],[8.6,92.62],[9.5,92.6],[10.3,92.51],[11.2,92.65],[12.3,92.75],[15.7,92.75],[19.6,92.73],[21.3,92.4],[23.6,92.33],[25.3,92.26],[27,92.18],[28.1,92.22],[29.8,92.49],[31.5,92.48],[32.6,92.44],[34.3,92.55],[36,92.7],[37.7,92.88],null,[47.6,93.3],[48.4,93.65],[49.5,93.8],[50.9,93.85],[51.8,93.98],[52.3,94.02],[53.2,93.8],[54.2,93.2],[55.1,92.62],[56.3,92.67],[57.4,92.62],[59.1,92.59],[60.8,92.55],[61.9,92.7],[63,92.8],[64.7,92.77],[66.4,92.62],[68.1,92.59],[70.3,92.59],[72,92.68],[73.7,92.73],[76,92.66],[78.2,92.44],[79.9,92.33],[81.1,92.26],[82.2,92.37],[83.3,92.33],[85,92.75],[87,93.21],[88.4,93.0],[89.5,92.6],[90.6,92.29],[92.3,92.11],[93.5,92.18],[94.6,92.22],[96.3,92.5],[98,92.73],[99.5,93.0],null,[103.6,92.59],[105.9,92.44],null,[111.5,93.4],[112.6,93.5],[113.8,93.43],[115.5,93.35],[117.2,93.28],[118.6,93.1],[120,93.15],[121.7,93.5],[122.8,94.02],[124.5,93.95],[125.9,94.09],[127.3,93.72],[128.4,93.47],[129.6,93.17],[130.7,93.06],[132,92.95]];
const zsaka1 = [[0,87.74],[1.6,87.96],[2.7,88.22],[4.4,88.44],[5.5,88.36],[7.2,88.22],[8,88.8],[8.6,89.2],[9.5,89.35],[10.3,89.3],null,[24.7,88.77],[26.4,88.69],[27.8,89.1],[28.6,89.42],[29.5,89.28],[30.3,89.35],[31.5,89.28],[32.6,89.35],[34.3,89.42],[36,89.42],[37.7,89.64],[38.8,90.12],[39.9,89.76],[41.1,89.61],[42.7,89.28],[44,88.9],[45.5,88.6],[46.8,88.5],[47.6,88.9],[48.4,89.57],[49.5,89.59],[50.6,89.53],[52,89.68],[52.9,89.42],[53.7,89.28],[55.2,88.95],[56.8,88.21],[58.5,87.92],[60.2,87.88],[61.4,88.03],[62.2,88.44],[64.2,88.51],[66.4,88.53],[67.5,88.34],[69.2,88.4],[70.9,88.33],[72.6,88.44],[74,88.53],[75.4,88.4],[77.1,88.21],[78.5,87.92],[79.9,88.1],[81.6,88.18],[83.3,88.25],[84.4,88.4],[85.6,88.58],[86.4,89.06],[87.3,89.23],[88.4,89.06],[89.5,88.66],[91.2,88.1],[92.6,87.66],[93.5,87.74],[94.6,87.92],[96.3,88.1],[98,88.4],[99.7,88.77],[100.8,88.66],[101.9,88.44],[103.6,88.1],[105.3,87.88],[106.4,87.81],[107.6,87.99],[109.3,88.33],[110.4,88.73],[111.2,89.02],[112.6,89.17],[113.2,89.39],[114.9,89.06],[115.7,88.88],[116.6,89.06],[117.7,88.91],[118.8,88.66],[120,88.95],[120.8,89.66],[122.2,89.02],[123.3,88.66],[124.5,88.47],[125.6,88.44],[126.7,88.36],[127.6,88.55],[128.2,88.8]];
const zsaka2 = [[0,86.27],[1.6,86.67],[3.8,87.0],[5,86.89],[7.2,86.56],[8.1,87.26],[8.9,87.63],[9.5,87.66],[10,87.65],null,[24.4,87.15],[26.4,87.12],[27.8,87.15],[28.6,87.92],[29.5,87.99],[30.3,88.23],[32.6,88.25],[33.7,88.18],[35.4,88.33],[37.1,88.51],[38.2,88.84],[38.8,89.4],[39.4,89.1],[40.5,88.8],[42.2,88.4],[43.9,88.03],[45.6,87.74],[46.7,87.7],[47.8,88.22],[48.9,88.55],[50.6,88.88],[52,89.21],[52.9,88.66],[53.7,88.03],[55.2,87.48],[56.8,87.11],[58.5,86.89],[60.2,86.74],[61.4,86.78],[62.5,87.15],[64.2,87.3],[66.4,86.89],[68.1,86.71],[69.8,86.74],[71.5,86.67],[74.3,87.04],[76,86.82],[77.7,86.52],[79.4,86.3],[81.1,86.19],[82.7,86.38],[84.2,86.52],[85.6,87.04],[86.7,87.41],[87.8,87.7],[88.7,87.55],[89.5,87.11],[90.6,86.67],[91.8,86.41],[93.2,86.38],[94.6,86.49],null,[96.9,86.67],[98,87.04],[99.1,87.44],[100,87.63],[100.8,87.55],[101.9,87.19],[103.6,86.78],[105.3,86.56],[107,86.6],[108.7,86.93],[109.8,87.26],[111,87.77],[112.1,87.96],[113,88.05],[113.8,87.77],[115.5,87.48],[117.2,87.26],[118.8,87.17],[120,87.19],[121.1,87.55],[122.2,88.21],[123.4,88.69],[124.2,88.62],[125.1,88.4],[126.2,88.0]];

const seriesNames = ["Bakonszeg","Bedő","Berekbösz.","B.újfalu I.","B.újfalu II.","B.keresztes","B.nagybajom","Darvas I.","Darvas II.","Hencida","Komádi","Konyár","Mezőpeterd","Mezősas","Nagykereki","Pocsaj","Szerep","Szeghalom","Tépe","Váncsod","Zsáka I.","Zsáka II."];
const seriesData = [bakonszeg,bedo,berekbosz,bujfalu1,bujfalu2,bkeresztes,bnagybajom,darvas1,darvas2,hencida,komadi,konyar,mezopeterd,mezosas,nagykereki,pocsaj,szerep,szeghalom,tepe,vancsod,zsaka1,zsaka2];
const seriesColors = ["#2E5A8C","#953735","#76923C","#55406F","#2E8596","#E0731F","#4A7EBB","#C0504D","#9BBB59","#8064A2","#4BACC6","#F79646","#7EA2D2","#CB7D7A","#AAC67E","#A08DBF","#79C1D4","#BDB2D0","#F8A76C","#A8BEDC","#DEAEAD","#CBDBAF"];

const xTickMonths = [0,12,24,36,48,60,72,84,96,108,120,132];
const xTickLabels = ["1996.01","1996.12","1997.12","1998.12","1999.12","2000.12","2001.12","2002.12","2003.12","2004.12","2005.12","2006.12"];
const yTicks = d3.range(82, 101, 1);

const svg = d3.select("#chart");
const plotL = 97.5, plotR = 878, plotT = 20.5, plotB = 1654;
const x = d3.scaleLinear().domain([0, 132]).range([plotL, plotR]);
const y = d3.scaleLinear().domain([82, 100]).range([plotB, plotT]);

// clip for the plot area, legend shadow
const defs = svg.append("defs");
defs.append("clipPath").attr("id", "plotClip")
  .append("rect").attr("x", plotL).attr("y", plotT - 2).attr("width", plotR - plotL).attr("height", plotB - plotT + 2);
const shadow = defs.append("filter").attr("id", "legendShadow")
  .attr("x", "-10%").attr("y", "-10%").attr("width", "130%").attr("height", "130%");
shadow.append("feDropShadow").attr("dx", 4).attr("dy", 4).attr("stdDeviation", 3)
  .attr("flood-color", "#000").attr("flood-opacity", 0.65);

// horizontal gridlines
svg.append("g").selectAll("line").data(yTicks.filter(v => v > 82 && v < 100)).join("line")
  .attr("x1", plotL).attr("x2", plotR)
  .attr("y1", d => y(d)).attr("y2", d => y(d))
  .attr("stroke", "#8a8a8a").attr("stroke-width", 1.5);

// series lines
const line = d3.line().defined(d => d !== null).x(d => x(d[0])).y(d => y(d[1]));
const plot = svg.append("g").attr("clip-path", "url(#plotClip)");
seriesData.forEach((data, i) => {
  plot.append("path").datum(data)
    .attr("d", line)
    .attr("fill", "none")
    .attr("stroke", seriesColors[i])
    .attr("stroke-width", 3)
    .attr("stroke-linejoin", "round")
    .attr("stroke-linecap", "round");
});

// plot frame: top and right border
svg.append("line").attr("x1", plotL).attr("x2", plotR + 1.5).attr("y1", plotT).attr("y2", plotT)
  .attr("stroke", "#111").attr("stroke-width", 3);
svg.append("line").attr("x1", plotR).attr("x2", plotR).attr("y1", plotT).attr("y2", plotB)
  .attr("stroke", "#111").attr("stroke-width", 3);

// y axis
const yAxis = svg.append("g").attr("transform", `translate(${plotL},0)`)
  .call(d3.axisLeft(y).tickValues(yTicks).tickFormat(d3.format("d")).tickSize(8).tickPadding(8.5));
yAxis.select(".domain").attr("stroke", "#111").attr("stroke-width", 2.5);
yAxis.selectAll(".tick line").attr("stroke", "#555").attr("stroke-width", 1.5);
yAxis.selectAll(".tick text")
  .attr("font-size", 22).attr("fill", "#111")
  .attr("font-family", "'Liberation Sans', Arial, sans-serif")
  .attr("transform", "scale(1.28,1)");

// x axis
const xAxis = svg.append("g").attr("transform", `translate(0,${plotB})`)
  .call(d3.axisBottom(x).tickValues(xTickMonths).tickFormat((d, i) => xTickLabels[i]).tickSize(8).tickSizeOuter(0));
xAxis.select(".domain").attr("stroke", "#808080").attr("stroke-width", 3);
xAxis.selectAll(".tick line").attr("stroke", "#808080").attr("stroke-width", 1.5);
xAxis.selectAll(".tick text")
  .attr("font-size", 26).attr("fill", "#111")
  .attr("font-family", "'Liberation Sans', Arial, sans-serif")
  .attr("text-anchor", "end")
  .attr("transform", "rotate(-90)")
  .attr("x", -10).attr("y", 0).attr("dy", "0.36em")
  .attr("textLength", 106).attr("lengthAdjust", "spacingAndGlyphs");

// unit labels
svg.append("text").attr("transform", "translate(12,85) scale(1.28,1)")
  .attr("font-size", 20).attr("font-weight", "bold").attr("fill", "#111").text("m B.f.");
svg.append("text").attr("transform", "translate(789,1576) scale(1.28,1)")
  .attr("font-size", 20).attr("font-weight", "bold").attr("fill", "#111").text("év.hó");

// legend
const lg = svg.append("g");
lg.append("rect").attr("x", 899).attr("y", 45).attr("width", 236).attr("height", 1029)
  .attr("fill", "#fff").attr("stroke", "#222").attr("stroke-width", 1.2)
  .attr("filter", "url(#legendShadow)");
const legendRow = d3.scaleLinear().domain([0, 21]).range([73.5, 1057.5]);
seriesNames.forEach((name, i) => {
  const yy = legendRow(i);
  lg.append("line").attr("x1", 910).attr("x2", 961).attr("y1", yy).attr("y2", yy)
    .attr("stroke", seriesColors[i]).attr("stroke-width", 3);
  lg.append("text").attr("transform", `translate(965,${yy + 8}) scale(1.28,1)`)
    .attr("font-size", 22).attr("fill", "#111").text(name);
});
</script>
</body>
</html>
